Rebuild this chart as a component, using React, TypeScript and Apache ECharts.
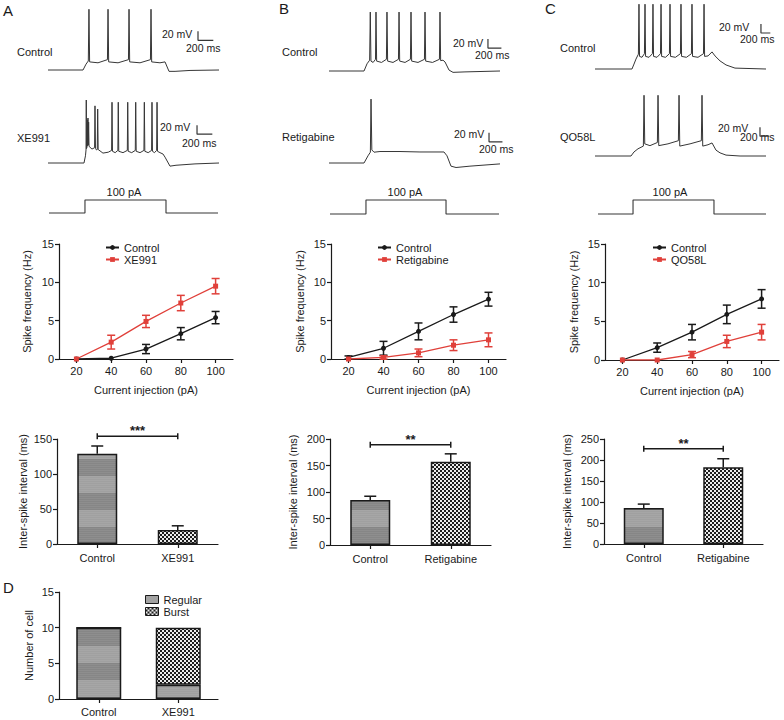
import React, { useEffect, useRef } from "react";
import * as echarts from "echarts";

// ---------------- DATA ----------------
const currents = ["20", "40", "60", "80", "100"];

const freqA_control = [0, 0.1, 1.3, 3.3, 5.4];
const freqA_controlErr = [0, 0, 0.6, 0.8, 0.8];
const freqA_xe991 = [0, 2.2, 4.9, 7.3, 9.5];
const freqA_xe991Err = [0, 0.9, 0.8, 1.0, 1.0];

const freqB_control = [0.2, 1.4, 3.6, 5.8, 7.8];
const freqB_controlErr = [0.2, 0.9, 1.1, 1.0, 0.9];
const freqB_retigabine = [0, 0.2, 0.8, 1.8, 2.5];
const freqB_retigabineErr = [0, 0.2, 0.5, 0.7, 0.9];

const freqC_control = [0, 1.6, 3.6, 5.9, 7.9];
const freqC_controlErr = [0, 0.6, 1.0, 1.2, 1.2];
const freqC_qo58l = [0, 0, 0.7, 2.4, 3.6];
const freqC_qo58lErr = [0, 0, 0.4, 0.8, 1.0];

const isiA_cats = ["Control", "XE991"];
const isiA_vals = [129, 20];
const isiA_errs = [11, 6];
const isiA_sig = 154;
const isiA_stars = "***";

const isiB_cats = ["Control", "Retigabine"];
const isiB_vals = [85, 157];
const isiB_errs = [7, 15];
const isiB_sig = 189;
const isiB_stars = "**";

const isiC_cats = ["Control", "Retigabine"];
const isiC_vals = [86, 183];
const isiC_errs = [9, 20];
const isiC_sig = 227;
const isiC_stars = "**";

const cellCats = ["Control", "XE991"];
const cellRegular = [10, 2];
const cellBurst = [0, 8];

// membrane potential traces: [time (ms), Vm (mV)]
const traceA_control: number[][] = [
  [0, -70], [430, -70], [467, -57], [495, -50], [503, 65], [511, -52], [614, -54],
  [730, -47], [737, 65], [745, -52], [860, -54], [988, -47], [995, 65], [1003, -52],
  [1130, -54], [1258, -47], [1265, 65], [1273, -52], [1375, -54], [1437, -52],
  [1486, -73], [1560, -73], [1744, -71], [2100, -70],
];
const traceA_xe991: number[][] = [
  [0, -70], [442, -70], [460, -54], [467, -41], [470, 70], [473, -38], [480, -34],
  [483, 26], [487, -32], [491, 30], [495, -30], [499, 21], [504, -33], [540, -39],
  [572, -36], [577, 57], [583, -38], [596, -41], [605, -40], [610, 50], [616, -40],
  [675, -48], [740, -46], [781, -42], [786, 65], [792, -44], [825, -47], [858, -42],
  [863, 65], [869, -44], [921, -47], [974, -42], [979, 65], [985, -44], [1028, -47],
  [1072, -42], [1077, 65], [1083, -44], [1130, -47], [1178, -42], [1183, 65],
  [1189, -44], [1230, -47], [1272, -42], [1277, 65], [1283, -44], [1308, -47],
  [1334, -42], [1339, 65], [1345, -44], [1375, -47], [1412, -50], [1437, -57],
  [1498, -77], [1572, -75], [1805, -72], [2100, -70],
];
const traceB_control: number[][] = [
  [0, -70], [430, -70], [467, -54], [499, -46], [507, 61], [515, -48], [542, -51],
  [571, -44], [577, 61], [585, -48], [645, -51], [705, -44], [712, 61], [720, -48],
  [786, -51], [853, -44], [860, 61], [868, -48], [934, -51], [1000, -44], [1007, 61],
  [1015, -48], [1093, -51], [1172, -44], [1179, 61], [1187, -48], [1271, -51],
  [1356, -44], [1363, 61], [1371, -47], [1400, -46], [1425, -50], [1474, -68],
  [1523, -73], [1670, -72], [2100, -70],
];
const traceB_retigabine: number[][] = [
  [0, -70], [430, -70], [479, -54], [508, -46], [516, 72], [526, -41], [553, -46],
  [626, -44.5], [872, -44.5], [1117, -45.5], [1412, -45.5], [1449, -54], [1498, -77],
  [1560, -80], [1731, -77], [2100, -72],
];
const traceC_control: number[][] = [
  [0, -70], [454, -70], [479, -59], [503, -48], [533, -37], [540, 74], [547, -42],
  [577, -44], [607, -36], [614, 74], [621, -42], [663, -44], [705, -36], [712, 74],
  [719, -42], [761, -44], [804, -36], [811, 74], [818, -42], [866, -44], [914, -36],
  [921, 74], [928, -42], [988, -44], [1049, -36], [1056, 74], [1063, -42], [1123, -44],
  [1184, -36], [1191, 74], [1198, -42], [1265, -44], [1332, -36], [1339, 74],
  [1346, -42], [1388, -41], [1437, -32], [1474, -41], [1535, -52], [1609, -61],
  [1719, -68], [2100, -70],
];
const traceC_qo58l: number[][] = [
  [0, -70], [442, -70], [479, -61], [528, -54], [594, -48], [602, 65], [611, -43],
  [675, -47], [766, -40], [774, 65], [783, -47], [896, -43], [1024, -36], [1032, 65],
  [1041, -48], [1167, -43], [1306, -36], [1314, 65], [1323, -48], [1388, -45],
  [1437, -41], [1486, -57], [1535, -63], [1609, -68], [1781, -70], [2100, -70],
];
// injected current steps: [time (ms), current (pA)]
const stepA: number[][] = [[12, 0], [454, 0], [454, 100], [1449, 100], [1449, 0], [2088, 0]];
const stepB: number[][] = [[12, 0], [454, 0], [454, 100], [1437, 100], [1437, 0], [2088, 0]];
const stepC: number[][] = [[37, 0], [467, 0], [467, 100], [1461, 100], [1461, 0], [2100, 0]];
// scale bars: [time (ms), Vm (mV)] corners
const scaleA_control: number[][] = [[1842, 16], [1842, -4], [2030, -4]];
const scaleA_xe991: number[][] = [[1830, 14], [1830, -6], [2018, -6]];
const scaleB_control: number[][] = [[1952, 1], [1952, -19], [2117, -19]];
const scaleB_retigabine: number[][] = [[1965, -3], [1965, -23], [2130, -23]];
const scaleC_control: number[][] = [[2038, 30], [2038, 10], [2153, 10]];
const scaleC_qo58l: number[][] = [[2026, -6], [2026, -26], [2141, -26]];

// ---------------- STYLE ----------------
const FONT = "'Liberation Sans', Arial, Helvetica, sans-serif";
const INK = "#1a1a1a";
const TRACE = "#363636";
const RED = "#e0403a";

function makeCanvas(w: number, h: number, draw: (c: CanvasRenderingContext2D) => void) {
  const c = document.createElement("canvas");
  c.width = w;
  c.height = h;
  const ctx = c.getContext("2d")!;
  draw(ctx);
  return c;
}

function greyPattern(): any {
  const img = makeCanvas(4, 34, (ctx) => {
    ctx.fillStyle = "#a0a0a0";
    ctx.fillRect(0, 0, 4, 34);
    ctx.fillStyle = "#868686";
    ctx.fillRect(0, 17, 4, 17);
    ctx.fillStyle = "rgba(255,255,255,0.07)";
    for (let y = 0; y < 34; y += 2) ctx.fillRect(0, y, 4, 1);
  });
  return { image: img, repeat: "repeat", imageWidth: 4, imageHeight: 34 };
}

function checkPattern(): any {
  const img = makeCanvas(4, 4, (ctx) => {
    ctx.fillStyle = "#1c1c1c";
    ctx.fillRect(0, 0, 4, 4);
    ctx.fillStyle = "#ececec";
    ctx.fillRect(0, 0, 2, 2);
    ctx.fillRect(2, 2, 2, 2);
  });
  return { image: img, repeat: "repeat", imageWidth: 4, imageHeight: 4 };
}

const axisLine = { show: true, lineStyle: { color: INK, width: 1.2 } };
const axisTick = { show: true, length: 4, lineStyle: { color: INK, width: 1.2 } };
const axisLabel = { color: INK, fontSize: 11, fontFamily: FONT };
const nameStyle = { color: INK, fontSize: 11, fontFamily: FONT };

function buildOption() {
  const grid: any[] = [];
  const xAxis: any[] = [];
  const yAxis: any[] = [];
  const series: any[] = [];
  const legend: any[] = [];
  const graphic: any[] = [];

  const add = (g: any, x: any, y: any) => {
    grid.push({ ...g, containLabel: false });
    const i = grid.length - 1;
    xAxis.push({ ...x, gridIndex: i });
    yAxis.push({ ...y, gridIndex: i });
    return i;
  };

  // ---------- traces ----------
  const MS_PER_PX = 12.28;
  const TMAX = 2300;
  const traceW = TMAX / MS_PER_PX;
  const hidden = { show: false };
  const traceGrid = (left: number, baselinePx: number, data: number[][], bar: number[][]) => {
    const i = add(
      { left, top: baselinePx - 67.5, width: traceW, height: 72 },
      { type: "value", min: 0, max: TMAX, ...hidden },
      { type: "value", min: -80, max: 80, ...hidden }
    );
    series.push({
      type: "line", xAxisIndex: i, yAxisIndex: i, data, showSymbol: false, symbol: "none",
      lineStyle: { color: TRACE, width: 1, join: "miter" }, silent: true, clip: false,
    });
    series.push({
      type: "line", xAxisIndex: i, yAxisIndex: i, data: bar, showSymbol: false, symbol: "none",
      lineStyle: { color: TRACE, width: 1.2 }, silent: true, clip: false,
    });
  };
  const stepGrid = (left: number, top: number, height: number, data: number[][]) => {
    const i = add(
      { left, top, width: traceW, height },
      { type: "value", min: 0, max: TMAX, ...hidden },
      { type: "value", min: 0, max: 100, ...hidden }
    );
    series.push({
      type: "line", xAxisIndex: i, yAxisIndex: i, data, showSymbol: false, symbol: "none",
      lineStyle: { color: TRACE, width: 1.1 }, silent: true, clip: false,
    });
  };
  traceGrid(48, 70, traceA_control, scaleA_control);
  traceGrid(48, 163, traceA_xe991, scaleA_xe991);
  stepGrid(48, 200, 13, stepA);
  traceGrid(329, 71, traceB_control, scaleB_control);
  traceGrid(329, 163, traceB_retigabine, scaleB_retigabine);
  stepGrid(329, 200, 14, stepB);
  traceGrid(595, 69, traceC_control, scaleC_control);
  traceGrid(595, 156, traceC_qo58l, scaleC_qo58l);
  stepGrid(595, 200, 14, stepC);

  // ---------- frequency line charts ----------
  const errSeries = (i: number, vals: number[], errs: number[], color: string) => ({
    type: "custom", xAxisIndex: i, yAxisIndex: i, z: 3, silent: true,
    data: vals.map((v, k) => [k, v, errs[k]]),
    renderItem: (_p: any, api: any) => {
      const k = api.value(0), v = api.value(1), e = api.value(2);
      if (!e) return null;
      const t = api.coord([k, v + e]);
      const b = api.coord([k, v - e]);
      const w = 4;
      const st = { stroke: color, lineWidth: 1.5 };
      return {
        type: "group",
        children: [
          { type: "line", shape: { x1: t[0], y1: t[1], x2: b[0], y2: b[1] }, style: st },
          { type: "line", shape: { x1: t[0] - w, y1: t[1], x2: t[0] + w, y2: t[1] }, style: st },
          { type: "line", shape: { x1: b[0] - w, y1: b[1], x2: b[0] + w, y2: b[1] }, style: st },
        ],
      };
    },
  });

  const lineChart = (
    box: any, yGap: number,
    s1: string, v1: number[], e1: number[],
    s2: string, v2: number[], e2: number[],
    legendLeft: number
  ) => {
    const i = add(
      box,
      {
        type: "category", data: currents, boundaryGap: true, axisLine,
        axisTick: { ...axisTick, alignWithLabel: true },
        axisLabel: { ...axisLabel, margin: 6 },
        name: "Current injection (pA)", nameLocation: "middle", nameGap: 25,
        nameTextStyle: nameStyle, splitLine: { show: false },
      },
      {
        type: "value", min: 0, max: 15, interval: 5, axisLine, axisTick,
        axisLabel: { ...axisLabel, margin: 5 }, splitLine: { show: false },
        name: "Spike frequency (Hz)", nameLocation: "middle", nameGap: yGap, nameTextStyle: nameStyle,
      }
    );
    series.push(errSeries(i, v1, e1, INK));
    series.push(errSeries(i, v2, e2, RED));
    series.push({
      name: s1, type: "line", xAxisIndex: i, yAxisIndex: i, data: v1, symbol: "circle", symbolSize: 5,
      lineStyle: { color: INK, width: 1.3 }, itemStyle: { color: INK }, z: 4, silent: true,
    });
    series.push({
      name: s2, type: "line", xAxisIndex: i, yAxisIndex: i, data: v2, symbol: "rect", symbolSize: 5,
      lineStyle: { color: RED, width: 1.3 }, itemStyle: { color: RED }, z: 4, silent: true,
    });
    legend.push({
      data: [s1, s2], orient: "vertical", left: legendLeft, top: 237, itemWidth: 13, itemHeight: 6,
      itemGap: 1, selectedMode: false, textStyle: { color: INK, fontSize: 11, fontFamily: FONT },
    });
  };

  lineChart({ left: 59, top: 244, width: 174, height: 115 }, 27,
    "Control", freqA_control, freqA_controlErr, "XE991", freqA_xe991, freqA_xe991Err, 100);
  lineChart({ left: 331, top: 244, width: 175, height: 115 }, 26,
    "Control", freqB_control, freqB_controlErr, "Retigabine", freqB_retigabine, freqB_retigabineErr, 372);
  lineChart({ left: 605, top: 244, width: 174, height: 116 }, 26,
    "Control", freqC_control, freqC_controlErr, "QO58L", freqC_qo58l, freqC_qo58lErr, 647);

  // ---------- ISI bar charts ----------
  const grey = greyPattern();
  const check = checkPattern();

  const isiChart = (
    box: any, cats: string[], vals: number[], errs: number[], yMax: number, step: number,
    yGap: number, sig: number, stars: string
  ) => {
    const i = add(
      box,
      {
        type: "category", data: cats, boundaryGap: true, axisLine,
        axisTick: { ...axisTick, alignWithLabel: true },
        axisLabel: { ...axisLabel, margin: 8 },
      },
      {
        type: "value", min: 0, max: yMax, interval: step, axisLine, axisTick,
        axisLabel: { ...axisLabel, margin: 5 }, splitLine: { show: false },
        name: "Inter-spike interval (ms)", nameLocation: "middle", nameGap: yGap, nameTextStyle: nameStyle,
      }
    );
    series.push({
      type: "bar", xAxisIndex: i, yAxisIndex: i, barWidth: 40, silent: true, z: 2,
      data: vals.map((v, k) => ({ value: v, itemStyle: { color: k === 0 ? grey : check } })),
      itemStyle: { borderColor: INK, borderWidth: 1.5 },
    });
    series.push({
      type: "custom", xAxisIndex: i, yAxisIndex: i, z: 3, silent: true,
      data: vals.map((v, k) => [k, v, errs[k]]),
      renderItem: (_p: any, api: any) => {
        const k = api.value(0), v = api.value(1), e = api.value(2);
        const t = api.coord([k, v + e]);
        const b = api.coord([k, v]);
        const st = { stroke: INK, lineWidth: 1.5 };
        return {
          type: "group",
          children: [
            { type: "line", shape: { x1: t[0], y1: t[1], x2: b[0], y2: b[1] }, style: st },
            { type: "line", shape: { x1: t[0] - 6, y1: t[1], x2: t[0] + 6, y2: t[1] }, style: st },
          ],
        };
      },
    });
    series.push({
      type: "custom", xAxisIndex: i, yAxisIndex: i, z: 3, silent: true,
      data: [[0, 1, sig]],
      renderItem: (_p: any, api: any) => {
        const l = api.coord([api.value(0), api.value(2)]);
        const r = api.coord([api.value(1), api.value(2)]);
        const st = { stroke: INK, lineWidth: 1.5 };
        return {
          type: "group",
          children: [
            { type: "line", shape: { x1: l[0], y1: l[1], x2: r[0], y2: r[1] }, style: st },
            { type: "line", shape: { x1: l[0], y1: l[1] - 3, x2: l[0], y2: l[1] + 3 }, style: st },
            { type: "line", shape: { x1: r[0], y1: r[1] - 3, x2: r[0], y2: r[1] + 3 }, style: st },
            {
              type: "text", x: (l[0] + r[0]) / 2, y: l[1] + 1,
              style: { text: stars, fill: INK, fontSize: 13, fontWeight: "bold", fontFamily: FONT, align: "center", verticalAlign: "bottom" },
            },
          ],
        };
      },
    });
  };

  isiChart({ left: 57, top: 439, width: 161, height: 105 }, isiA_cats, isiA_vals, isiA_errs, 150, 50, 29, isiA_sig, isiA_stars);
  isiChart({ left: 330, top: 439, width: 161, height: 106 }, isiB_cats, isiB_vals, isiB_errs, 200, 50, 32, isiB_sig, isiB_stars);
  isiChart({ left: 604, top: 439, width: 159, height: 105 }, isiC_cats, isiC_vals, isiC_errs, 250, 50, 32, isiC_sig, isiC_stars);

  // ---------- D stacked ----------
  const d = add(
    { left: 59, top: 592, width: 159, height: 107 },
    {
      type: "category", data: cellCats, boundaryGap: true, axisLine,
      axisTick: { ...axisTick, alignWithLabel: true }, axisLabel: { ...axisLabel, margin: 7 },
    },
    {
      type: "value", min: 0, max: 15, interval: 5, axisLine, axisTick,
      axisLabel: { ...axisLabel, margin: 5 }, splitLine: { show: false },
      name: "Number of cell", nameLocation: "middle", nameGap: 25, nameTextStyle: nameStyle,
    }
  );
  series.push({
    name: "Regular", type: "bar", stack: "cells", xAxisIndex: d, yAxisIndex: d, barWidth: 45, data: cellRegular,
    itemStyle: { color: grey, borderColor: INK, borderWidth: 1.5 }, silent: true,
  });
  series.push({
    name: "Burst", type: "bar", stack: "cells", xAxisIndex: d, yAxisIndex: d, barWidth: 45, data: cellBurst,
    itemStyle: { color: check, borderColor: INK, borderWidth: 1.5 }, silent: true,
  });
  legend.push({
    data: ["Regular", "Burst"], orient: "vertical", left: 140, top: 589, itemWidth: 13, itemHeight: 8,
    itemGap: 1, icon: "rect", selectedMode: false,
    itemStyle: { borderColor: INK, borderWidth: 1 },
    textStyle: { color: INK, fontSize: 11, fontFamily: FONT },
  });

  // ---------- texts ----------
  const txt = (text: string, x: number, y: number, size = 11, align = "left") => ({
    type: "text", x, y, silent: true,
    style: { text, fill: INK, fontSize: size, fontFamily: FONT, align, verticalAlign: "middle" },
  });
  graphic.push(
    txt("A", 3, 10, 15), txt("B", 279, 8, 15), txt("C", 545, 8, 15), txt("D", 3, 587, 15),
    txt("Control", 17, 52), txt("XE991", 17, 138), txt("100 pA", 124, 192, 11, "center"),
    txt("20 mV", 162, 34, 10.5), txt("200 ms", 186, 48, 10.5),
    txt("20 mV", 160, 127, 10.5), txt("200 ms", 182, 143, 10.5),
    txt("Control", 282, 52), txt("Retigabine", 282, 137), txt("100 pA", 405, 192, 11, "center"),
    txt("20 mV", 453, 43, 10.5), txt("200 ms", 475, 55, 10.5),
    txt("20 mV", 454, 134, 10.5), txt("200 ms", 479, 149, 10.5),
    txt("Control", 560, 48), txt("QO58L", 560, 137), txt("100 pA", 670, 192, 11, "center"),
    txt("20 mV", 719, 27, 10.5), txt("200 ms", 740, 39, 10.5),
    txt("20 mV", 718, 128, 10.5), txt("200 ms", 740, 137, 10.5)
  );

  return {
    animation: false,
    backgroundColor: "#ffffff",
    textStyle: { fontFamily: FONT },
    grid, xAxis, yAxis, series, legend, graphic,
  };
}

export default function App() {
  const ref = useRef<HTMLDivElement>(null);
  useEffect(() => {
    document.body.style.margin = "0";
    const chart = echarts.init(ref.current!, null, { renderer: "svg", width: 784, height: 720 });
    chart.setOption(buildOption() as any);
    return () => chart.dispose();
  }, []);
  return <div ref={ref} style={{ width: 784, height: 720, position: "absolute", left: 0, top: 0 }} />;
}
